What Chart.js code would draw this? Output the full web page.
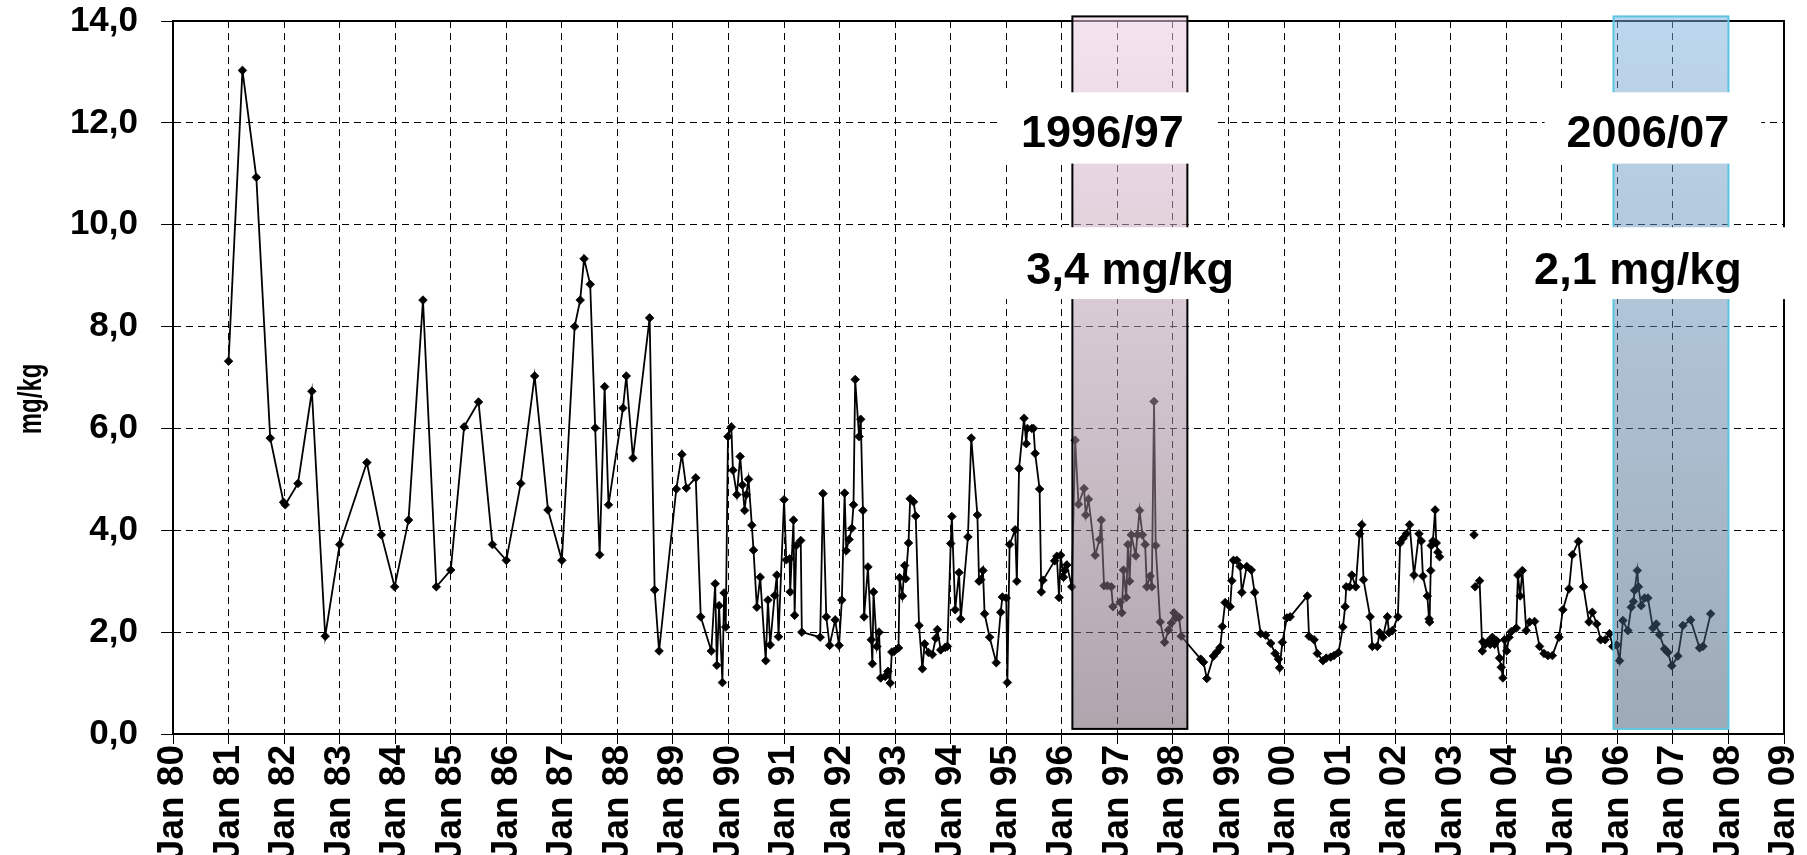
<!DOCTYPE html>
<html>
<head>
<meta charset="utf-8">
<script src="https://cdn.jsdelivr.net/npm/chart.js@4.4.1/dist/chart.umd.min.js"></script>
<style>
  html, body { margin: 0; padding: 0; background: #fff; overflow: hidden; }
  #wrap { width: 1807px; height: 876px; }
</style>
</head>
<body>
<div id="wrap"><canvas id="chart" width="1807" height="876"></canvas></div>
<script>
// sampling dates as decimal years, values in mg/kg (null = gap in the series)
const years = [
  1981.00, 1981.25, 1981.50, 1981.75, 1981.99, 1982.02, 1982.25, 1982.50, 1982.74, 1983.00,
  1983.49, 1983.75, 1983.99, 1984.24, 1984.50, 1984.74, 1985.00, 1985.24, 1985.50, 1985.75,
  1986.00, 1986.26, 1986.51, 1986.75, 1987.00, 1987.23, 1987.33, 1987.40, 1987.51, 1987.60,
  1987.68, 1987.77, 1987.84, 1988.10, 1988.16, 1988.28, 1988.58, 1988.67, 1988.75, 1989.06,
  1989.16, 1989.24, 1989.41, 1989.50, 1989.69, 1989.76, 1989.79, 1989.83, 1989.89, 1989.92,
  1989.95, 1989.99, 1990.05, 1990.08, 1990.15, 1990.21, 1990.25, 1990.29, 1990.32, 1990.36,
  1990.42, 1990.45, 1990.51, 1990.57, 1990.67, 1990.71, 1990.75, 1990.83, 1990.87, 1990.90,
  1991.00, 1991.04, 1991.10, 1991.11, 1991.17, 1991.19, 1991.22, 1991.30, 1991.32, 1991.65,
  1991.70, 1991.76, 1991.82, 1991.92, 1991.99, 1992.04, 1992.09, 1992.12, 1992.17, 1992.22,
  1992.25, 1992.28, 1992.35, 1992.38, 1992.42, 1992.44, 1992.51, 1992.57, 1992.59, 1992.61,
  1992.67, 1992.71, 1992.74, 1992.82, 1992.87, 1992.91, 1992.94, 1992.98, 1993.06, 1993.08,
  1993.13, 1993.17, 1993.19, 1993.24, 1993.27, 1993.33, 1993.37, 1993.43, 1993.49, 1993.53,
  1993.60, 1993.67, 1993.73, 1993.76, 1993.82, 1993.90, 1993.94, 1994.00, 1994.02, 1994.08,
  1994.15, 1994.18, 1994.31, 1994.37, 1994.48, 1994.51, 1994.54, 1994.58, 1994.61, 1994.70,
  1994.82, 1994.90, 1994.93, 1995.00, 1995.02, 1995.06, 1995.16, 1995.19, 1995.23, 1995.32,
  1995.36, 1995.38, 1995.46, 1995.49, 1995.52, 1995.60, 1995.63, 1995.66, 1995.87, 1995.91,
  1995.95, 1995.98, 1996.03, 1996.05, 1996.09, 1996.18, 1996.24, 1996.30, 1996.40, 1996.43,
  1996.48, 1996.60, 1996.68, 1996.71, 1996.76, 1996.82, 1996.89, 1996.92, 1997.05, 1997.08,
  1997.11, 1997.16, 1997.19, 1997.22, 1997.25, 1997.33, 1997.36, 1997.40, 1997.45, 1997.50,
  1997.53, 1997.59, 1997.62, 1997.66, 1997.69, 1997.77, 1997.85, 1997.92, 1997.97, 1998.02,
  1998.05, 1998.11, 1998.15, 1998.50, 1998.55, 1998.61, 1998.73, 1998.79, 1998.85, 1998.89,
  1998.94, 1999.03, 1999.06, 1999.09, 1999.15, 1999.21, 1999.24, 1999.33, 1999.41, 1999.47,
  1999.58, 1999.67, 1999.76, 1999.84, 1999.90, 1999.92, 1999.97, 2000.05, 2000.11, 2000.42,
  2000.45, 2000.54, 2000.60, 2000.70, 2000.76, 2000.84, 2000.90, 2000.98, 2001.06, 2001.10,
  2001.12, 2001.18, 2001.22, 2001.29, 2001.36, 2001.40, 2001.43, 2001.55, 2001.59, 2001.68,
  2001.72, 2001.78, 2001.86, 2001.89, 2001.95, 2002.05, 2002.09, 2002.14, 2002.20, 2002.26,
  2002.34, 2002.43, 2002.47, 2002.50, 2002.58, 2002.61, 2002.62, 2002.64, 2002.65, 2002.68,
  2002.72, 2002.74, 2002.77, 2002.80, 2003.10, 2003.42, 2003.43, 2003.44, 2003.52, 2003.57,
  2003.58, 2003.62, 2003.67, 2003.71, 2003.75, 2003.79, 2003.83, 2003.88, 2003.91, 2003.94,
  2003.97, 2004.01, 2004.05, 2004.09, 2004.18, 2004.21, 2004.25, 2004.29, 2004.36, 2004.42,
  2004.51, 2004.60, 2004.68, 2004.75, 2004.83, 2004.95, 2005.02, 2005.13, 2005.19, 2005.30,
  2005.39, 2005.49, 2005.55, 2005.63, 2005.70, 2005.78, 2005.86, 2005.92, 2005.99, 2006.04,
  2006.10, 2006.19, 2006.25, 2006.29, 2006.31, 2006.36, 2006.38, 2006.43, 2006.49, 2006.55,
  2006.64, 2006.70, 2006.76, 2006.85, 2006.91, 2006.98, 2007.09, 2007.18, 2007.32, 2007.48,
  2007.54, 2007.68
];
const values = [
  7.32, 13.03, 10.93, 5.81, 4.55, 4.50, 4.92, 6.73, 1.92, 3.72,
  5.33, 3.91, 2.89, 4.20, 8.52, 2.89, 3.22, 6.03, 6.52, 3.72,
  3.41, 4.92, 7.03, 4.40, 3.41, 8.00, 8.52, 9.33, 8.83, 6.01,
  3.52, 6.82, 4.50, 6.40, 7.03, 5.42, 8.17, 2.83, 1.63, 4.81,
  5.49, 4.83, 5.03, 2.30, 1.63, 2.95, 1.35, 2.52, 1.01, 2.77,
  2.10, 5.84, 6.03, 5.18, 4.70, 5.45, 4.89, 4.39, 4.70, 5.00,
  4.10, 3.61, 2.49, 3.08, 1.44, 2.63, 1.75, 2.72, 3.12, 1.91,
  4.60, 3.42, 3.44, 2.79, 4.20, 2.33, 3.70, 3.80, 2.00, 1.90,
  4.72, 2.30, 1.74, 2.24, 1.74, 2.63, 4.73, 3.60, 3.82, 4.04,
  4.50, 6.96, 5.84, 6.18, 4.39, 2.30, 3.28, 1.85, 1.38, 2.79,
  1.72, 2.00, 1.10, 1.13, 1.23, 1.00, 1.61, 1.62, 1.69, 3.07,
  2.71, 3.31, 3.05, 3.75, 4.62, 4.56, 4.28, 2.13, 1.28, 1.77,
  1.60, 1.56, 1.88, 2.05, 1.65, 1.70, 1.72, 3.74, 4.27, 2.44,
  3.17, 2.26, 3.87, 5.81, 4.30, 3.00, 3.03, 3.21, 2.36, 1.90,
  1.40, 2.39, 2.69, 2.67, 1.01, 3.72, 4.01, 3.00, 5.21, 6.20,
  5.70, 6.00, 6.00, 6.00, 5.51, 4.81, 2.79, 3.02, 3.40, 3.49,
  2.68, 3.51, 3.08, 3.21, 3.32, 2.89, 5.77, 4.51, 4.82, 4.30,
  4.61, 3.51, 3.82, 4.20, 2.91, 2.91, 2.89, 2.50, 2.59, 2.38,
  3.22, 2.68, 3.72, 3.00, 3.91, 3.50, 3.91, 4.39, 3.91, 3.72,
  2.89, 3.10, 2.89, 6.53, 3.70, 2.20, 1.80, 2.04, 2.18, 2.38,
  2.28, 2.29, 1.92, 1.47, 1.41, 1.09, 1.53, 1.61, 1.70, 2.11,
  2.58, 2.50, 3.01, 3.41, 3.41, 3.29, 2.78, 3.29, 3.22, 2.78,
  1.97, 1.94, 1.78, 1.58, 1.47, 1.30, 1.80, 2.28, 2.30, 2.71,
  1.92, 1.85, 1.58, 1.44, 1.49, 1.51, 1.54, 1.60, 2.10, 2.50,
  2.89, 2.89, 3.12, 2.89, 3.93, 4.11, 3.03, 2.30, 1.72, 1.72,
  1.99, 1.90, 2.30, 1.99, 2.03, 2.30, 3.75, 3.84, 3.93, 4.11,
  3.12, 3.93, 3.79, 3.10, 2.71, 2.26, 2.20, 3.21, 3.70, 3.79,
  4.40, 3.75, 3.57, 3.48, null, 3.91, null, 2.89, 3.01, 1.63,
  1.81, 1.76, 1.81, 1.76, 1.90, 1.76, 1.83, 1.49, 1.31, 1.10,
  1.85, 1.63, 1.90, 2.01, 2.08, 3.12, 2.71, 3.21, 2.03, 2.20,
  2.21, 1.72, 1.58, 1.54, 1.54, 1.90, 2.44, 2.85, 3.52, 3.78,
  2.89, 2.20, 2.39, 2.16, 1.85, 1.85, 1.97, 1.72, 1.75, 1.44,
  2.23, 2.03, 2.49, 2.60, 2.82, 3.21, 2.89, 2.52, 2.67, 2.67,
  2.08, 2.16, 1.95, 1.67, 1.60, 1.34, 1.53, 2.13, 2.24, 1.69,
  1.72, 2.36
];

// highlighted periods and their mean values
const periodNames = ['1996/97', '2006/07'];
const periodMeans = ['3,4 mg/kg', '2,1 mg/kg'];
const periodFrom = [1996.19, 2005.93];
const periodTo = [1998.26, 2008.0];

const FONT = '"Liberation Sans", Arial, Helvetica, sans-serif';

const periodsPlugin = {
  id: 'periods',
  afterDatasetsDraw(chart) {
    const { ctx, chartArea: a, scales: { x, y } } = chart;
    ctx.save();

    // plot frame
    ctx.strokeStyle = '#000';
    ctx.lineWidth = 2;
    ctx.strokeRect(a.left, a.top, a.right - a.left, a.bottom - a.top);

    const fills = [
      ['rgba(237,206,226,0.55)', 'rgba(109,91,106,0.55)'],
      ['rgba(123,175,221,0.5)', 'rgba(61,86,112,0.5)']
    ];
    const edges = ['#000', '#5cc6e2'];

    periodFrom.forEach((from, i) => {
      const x0 = x.getPixelForValue(from);
      const x1 = x.getPixelForValue(periodTo[i]);
      const y0 = y.getPixelForValue(14.09);
      const y1 = y.getPixelForValue(0.1);
      const g = ctx.createLinearGradient(0, y0, 0, y1);
      g.addColorStop(0, fills[i][0]);
      g.addColorStop(1, fills[i][1]);
      ctx.fillStyle = g;
      ctx.fillRect(x0, y0, x1 - x0, y1 - y0);
      ctx.strokeStyle = edges[i];
      ctx.lineWidth = 2;
      ctx.strokeRect(x0, y0, x1 - x0, y1 - y0);
    });

    // white text boxes with period name and mean
    const labels = [
      { text: periodNames[0], cx: 1996.73, base: 11.52, top: 12.6, bottom: 11.2, padL: 22, padR: 32 },
      { text: periodMeans[0], cx: 1997.23, base: 8.83, top: 9.95, bottom: 8.54, padL: 22, padR: 46 },
      { text: periodNames[1], cx: 2006.55, base: 11.52, top: 12.6, bottom: 11.2, padL: 22, padR: 32 },
      { text: periodMeans[1], cx: 2006.37, base: 8.83, top: 9.95, bottom: 8.54, padL: 22, padR: 46 }
    ];
    ctx.font = 'bold 45px ' + FONT;
    ctx.textAlign = 'center';
    ctx.textBaseline = 'alphabetic';
    labels.forEach(l => {
      const w = ctx.measureText(l.text).width;
      const cx = x.getPixelForValue(l.cx);
      const t = y.getPixelForValue(l.top);
      const b = y.getPixelForValue(l.bottom);
      ctx.fillStyle = '#fff';
      ctx.fillRect(cx - w / 2 - l.padL, t, w + l.padL + l.padR, b - t);
      ctx.fillStyle = '#000';
      ctx.fillText(l.text, cx, y.getPixelForValue(l.base));
    });

    // y axis title (slightly widened like the source image)
    ctx.save();
    ctx.translate(32, a.top + (a.bottom - a.top) * 0.53);
    ctx.scale(1.35, 1);
    ctx.rotate(-Math.PI / 2);
    ctx.font = 'bold 24px ' + FONT;
    ctx.textBaseline = 'middle';
    ctx.fillText('mg/kg', 0, 0);
    ctx.restore();

    ctx.restore();
  }
};

// drop the automatic label overflow padding so the plot keeps its own frame
const noPad = axis => {
  axis.paddingLeft = 0;
  axis.paddingRight = 0;
  axis.paddingTop = 0;
  axis.paddingBottom = 0;
};

const points = years.map((yr, i) => ({ x: yr, y: values[i] }));

new Chart(document.getElementById('chart'), {
  type: 'line',
  data: {
    datasets: [{
      data: points,
      borderColor: '#000',
      borderWidth: 1.8,
      pointStyle: 'rectRot',
      pointRadius: 4.3,
      pointBackgroundColor: '#000',
      pointBorderColor: '#000',
      pointBorderWidth: 0.8,
      tension: 0,
      spanGaps: false
    }]
  },
  options: {
    responsive: false,
    devicePixelRatio: 1,
    animation: false,
    layout: { padding: { top: 21, right: 23, bottom: 0, left: 0 } },
    plugins: {
      legend: { display: false },
      tooltip: { enabled: false }
    },
    scales: {
      x: {
        type: 'linear',
        min: 1980,
        max: 2009,
        afterFit: axis => { axis.height = 142; noPad(axis); },
        grid: { color: '#000', lineWidth: 1, tickLength: 10, tickBorderDash: [] },
        border: { color: '#000', width: 2, dash: [7, 5] },
        ticks: {
          stepSize: 1,
          autoSkip: false,
          maxRotation: 90,
          minRotation: 90,
          padding: 1,
          color: '#000',
          font: { family: FONT, size: 37, weight: 'bold' },
          callback: v => 'Jan ' + String(v % 100).padStart(2, '0')
        }
      },
      y: {
        min: 0,
        max: 14,
        afterFit: axis => { axis.width = 173; noPad(axis); },
        grid: { color: '#000', lineWidth: 1, tickLength: 12, tickBorderDash: [] },
        border: { color: '#000', width: 2, dash: [7, 5] },
        ticks: {
          stepSize: 2,
          padding: 23,
          color: '#000',
          font: { family: FONT, size: 35, weight: 'bold' },
          callback: v => v.toFixed(1).replace('.', ',')
        }
      }
    }
  },
  plugins: [periodsPlugin]
});
</script>
</body>
</html>
